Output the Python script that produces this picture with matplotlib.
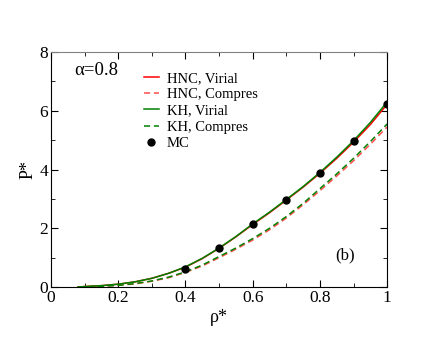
import matplotlib
matplotlib.use('Agg')
from matplotlib import pyplot as plt
from matplotlib.ticker import MultipleLocator

# density grid for the theory curves
rho = [0.08, 0.1, 0.15, 0.2, 0.25, 0.3, 0.35, 0.4, 0.45, 0.5, 0.55,
       0.6, 0.65, 0.7, 0.75, 0.8, 0.85, 0.9, 0.95, 1.0]

hnc_virial = [0.0, 0.02, 0.05, 0.1, 0.18, 0.3, 0.47, 0.68, 0.97, 1.32, 1.71,
              2.13, 2.53, 2.96, 3.4, 3.87, 4.38, 4.93, 5.53, 6.22]
hnc_compres = [0.0, 0.01, 0.03, 0.06, 0.11, 0.2, 0.32, 0.5, 0.72, 1.0, 1.29,
               1.6, 1.95, 2.35, 2.8, 3.28, 3.78, 4.3, 4.86, 5.45]
kh_virial = [0.0, 0.02, 0.05, 0.1, 0.18, 0.3, 0.47, 0.69, 0.98, 1.33, 1.72,
             2.15, 2.55, 2.98, 3.42, 3.9, 4.42, 4.98, 5.6, 6.3]
kh_compres = [0.0, 0.01, 0.03, 0.06, 0.12, 0.21, 0.34, 0.52, 0.75, 1.04, 1.33,
              1.65, 2.0, 2.4, 2.85, 3.35, 3.85, 4.38, 4.95, 5.55]

mc_rho = [0.4, 0.5, 0.6, 0.7, 0.8, 0.9, 1.0]
mc_p = [0.62, 1.32, 2.15, 2.97, 3.88, 4.97, 6.24]

plt.rcParams['font.family'] = ['Liberation Serif', 'DejaVu Serif']

fig = plt.figure(figsize=(4.36, 3.37), dpi=100)
ax = fig.add_axes([0.117, 0.148, 0.771, 0.698])

ax.plot(rho, hnc_virial, color='red', lw=1.1, label='HNC, Virial')
ax.plot(rho, hnc_compres, color='#ff5050', lw=1.1, ls=(0, (4, 2.5)), label='HNC, Compres')
ax.plot(rho, kh_virial, color='green', lw=1.1, label='KH, Virial')
ax.plot(rho, kh_compres, color='green', lw=1.1, ls=(0, (4, 2.5)), label='KH, Compres')
ax.plot(mc_rho, mc_p, 'o', color='black', ms=5, label='MC')

ax.set_xlim(0, 1)
ax.set_ylim(0, 8)
ax.xaxis.set_minor_locator(MultipleLocator(0.1))
ax.yaxis.set_major_locator(MultipleLocator(2))
ax.yaxis.set_minor_locator(MultipleLocator(1))
ax.set_xticks([0, 0.2, 0.4, 0.6, 0.8, 1.0])
ax.set_xticklabels(['0', '0.2', '0.4', '0.6', '0.8', '1'])
ax.tick_params(which='both', direction='in', top=True, right=True, labelsize=12.5, pad=2)
ax.tick_params(which='major', length=5)
ax.tick_params(which='minor', length=3)
ax.spines['top'].set_color('#808080')

ax.set_xlabel('ρ*', fontsize=13, labelpad=2)
ax.set_ylabel('P*', fontsize=13, labelpad=2)

ax.text(0.07, 7.2, 'α=0.8', fontsize=13.5)
ax.text(0.845, 0.95, '(b)', fontsize=12)

ax.legend(loc='upper left', bbox_to_anchor=(0.255, 0.945), frameon=False, fontsize=10.5,
          handlelength=1.0, handletextpad=0.55, labelspacing=0.2, borderpad=0)

plt.savefig('out.png', dpi=100)
